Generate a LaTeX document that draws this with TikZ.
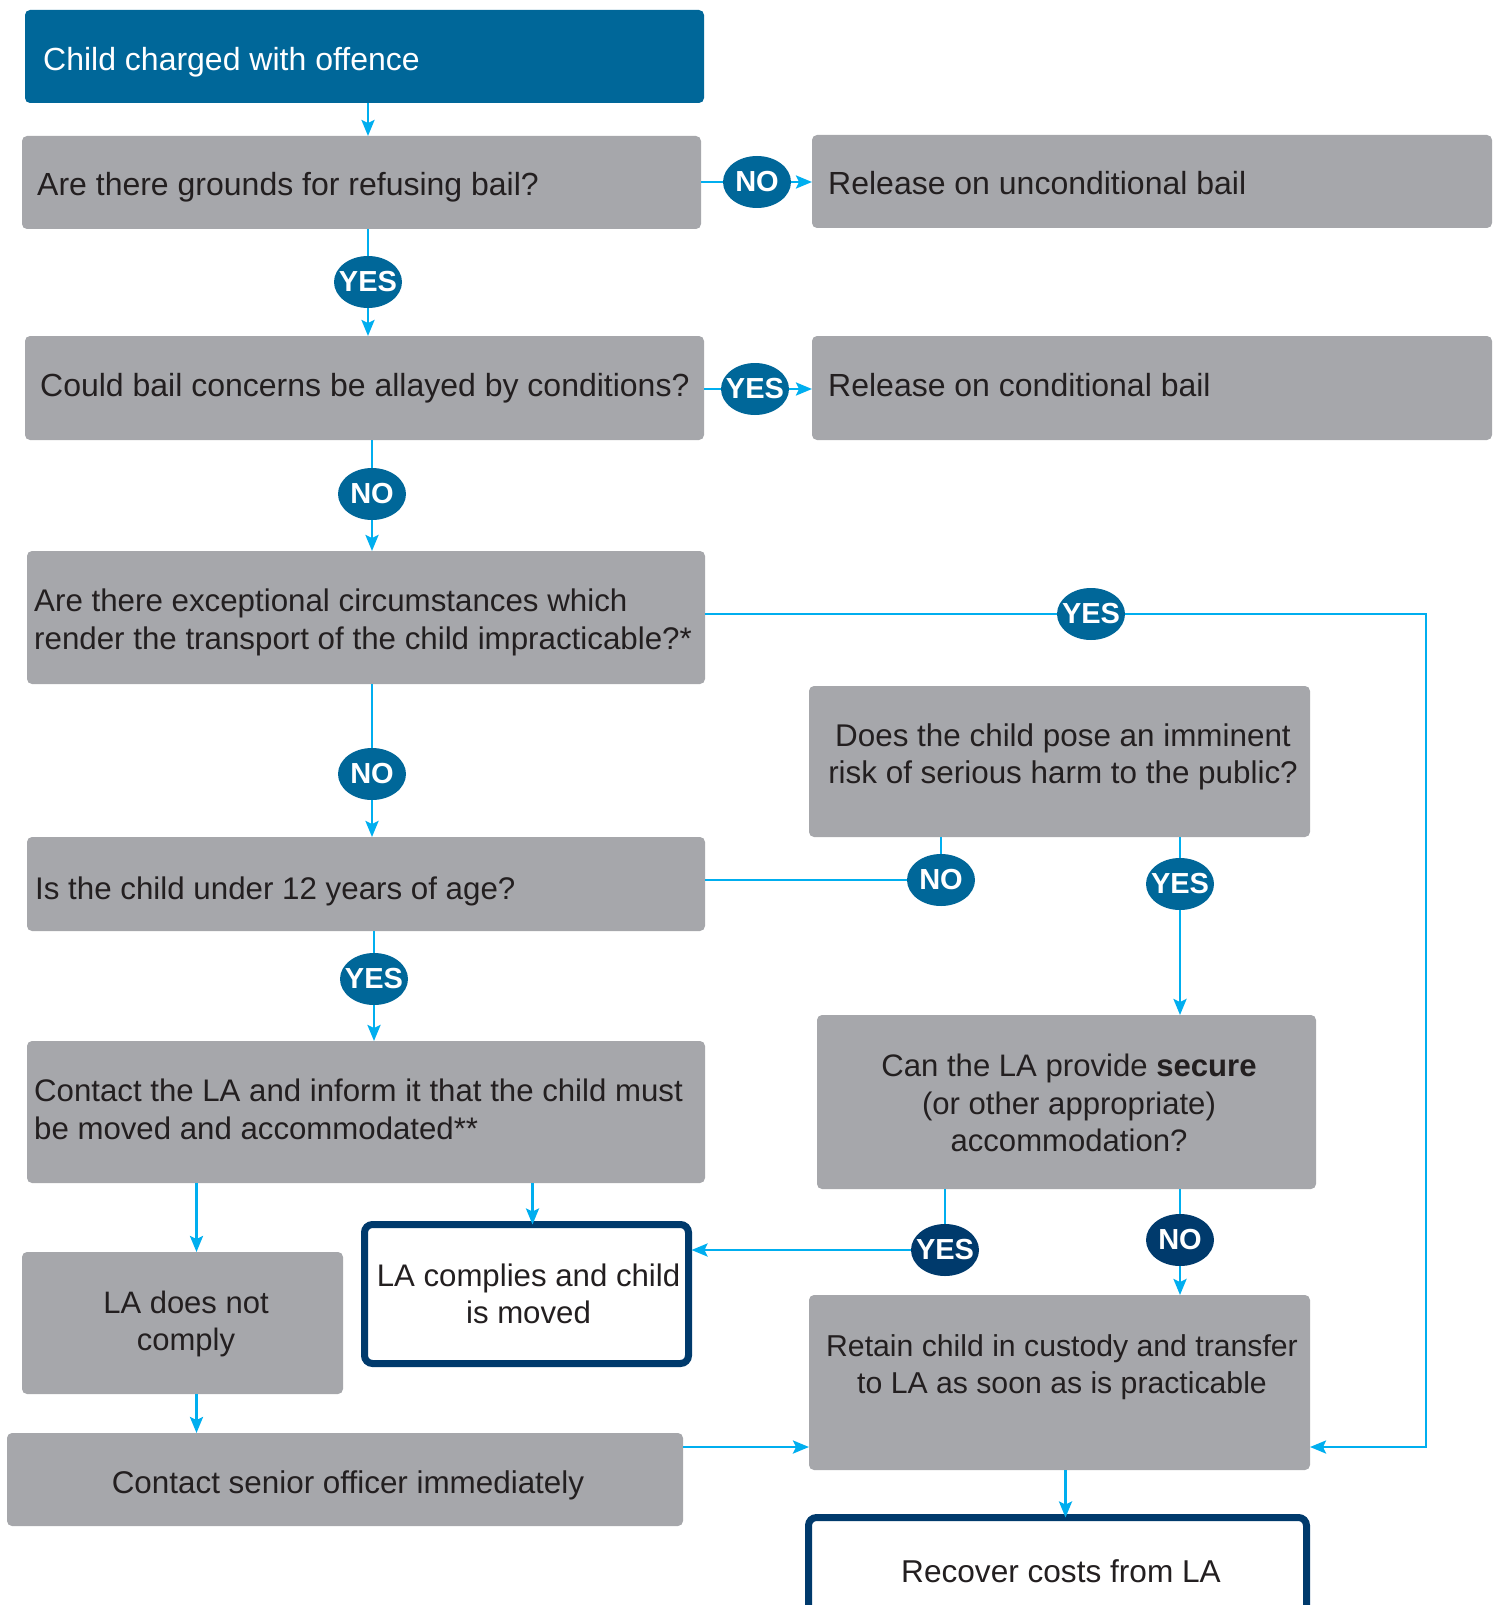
\documentclass[tikz,border=0pt]{standalone}
\usepackage{fontspec}
\setmainfont{Liberation Sans}
\usetikzlibrary{arrows.meta,shapes.geometric,calc}
\definecolor{topblue}{RGB}{0,103,153}
\definecolor{boxgray}{RGB}{166,167,171}
\definecolor{lineblue}{RGB}{0,174,239}
\definecolor{navy}{RGB}{0,58,108}
\definecolor{txtdark}{RGB}{35,31,32}
\newcommand{\tagtext}[1]{\makebox[0pt]{#1}}
\begin{document}
\begin{tikzpicture}[x=1pt,y=-1pt,
  every node/.style={text=txtdark},
  fs/.style={font=\fontsize{#1}{37.5}\selectfont},
  gbox/.style={fill=boxgray, rounded corners=5pt, inner sep=0pt, outer sep=0pt, anchor=north west},
  wbox/.style={draw=navy, line width=7pt, fill=white, rounded corners=8pt, inner sep=0pt, outer sep=0pt, anchor=north west},
  lt/.style={anchor=base west, inner sep=0pt, align=left},
  ct/.style={anchor=base, inner sep=0pt, align=center},
  tag/.style={ellipse, fill=topblue, minimum width=68pt, minimum height=52pt, inner sep=0pt, text=white, font=\fontsize{29}{30}\selectfont\bfseries},
  dtag/.style={tag, fill=navy},
  conn/.style={draw=lineblue, line width=2.6pt},
  arr/.style={conn, -{Stealth[length=16pt,width=13pt,inset=3pt]}},
]
\useasboundingbox (0,0) rectangle (1492,1605);
\clip (0,0) rectangle (1492,1605);

% boxes
\node[gbox, fill=topblue, minimum width=679pt, minimum height=93pt] (b1) at (25,10) {};
\node[gbox, minimum width=679pt, minimum height=93pt] (b2) at (22,136) {};
\node[gbox, minimum width=680pt, minimum height=93pt] (r1) at (812,135) {};
\node[gbox, minimum width=679pt, minimum height=104pt] (b3) at (25,336) {};
\node[gbox, minimum width=680pt, minimum height=104pt] (r2) at (812,336) {};
\node[gbox, minimum width=678pt, minimum height=133pt] (b4) at (27,551) {};
\node[gbox, minimum width=501pt, minimum height=151pt] (risk) at (809,686) {};
\node[gbox, minimum width=678pt, minimum height=94pt] (b5) at (27,837) {};
\node[gbox, minimum width=678pt, minimum height=142pt] (b6) at (27,1041) {};
\node[gbox, minimum width=499pt, minimum height=174pt] (can) at (817,1015) {};
\node[gbox, minimum width=321pt, minimum height=142pt] (nc) at (22,1252) {};
\node[wbox, minimum width=324pt, minimum height=139pt] (comp) at (364.5,1224.5) {};
\node[gbox, minimum width=501pt, minimum height=175pt] (retain) at (809,1295) {};
\node[gbox, minimum width=676pt, minimum height=93pt] (senior) at (7,1433) {};
\node[wbox, minimum width=498pt, minimum height=150pt] (recover) at (808.5,1517.5) {};

% texts (base anchor = baseline of the last line)
\node[lt, fs=32, text=white] (t1) at (43,71) {Child charged with offence};
\node[lt, fs=32] (t2) at (37,196) {Are there grounds for refusing bail?};
\node[lt, fs=32] (tr1) at (828,195) {Release on unconditional bail};
\node[lt, fs=32] (t3) at (40,396) {Could bail concerns be allayed by conditions?};
\node[lt, fs=32] (tr2) at (828,396) {Release on conditional bail};
\node[lt, fs=31.3] (t4) at (34,649) {Are there exceptional circumstances which\\render the transport of the child impracticable?*};
\node[ct, fs=31.4] (trisk) at (1063,783.5) {Does the child pose an imminent\\risk of serious harm to the public?};
\node[lt, fs=31.3] (t5) at (35,899) {Is the child under 12 years of age?};
\node[lt, fs=31.2] (t6) at (34,1139) {Contact the LA and inform it that the child must\\be moved and accommodated**};
\node[ct, fs=31.1] (tcan) at (1069,1151.5) {Can the LA provide \textbf{secure}\\(or other appropriate)\\accommodation?};
\node[ct, fs=31] (tnc) at (186,1350.5) {LA does not\\comply};
\node[ct, fs=31.2] (tcomp) at (528.5,1323.5) {LA complies and child\\is moved};
\node[ct, fs=30.2] (tretain) at (1062,1393.5) {Retain child in custody and transfer\\to LA as soon as is practicable};
\node[ct, fs=31.4] (tsenior) at (348,1493) {Contact senior officer immediately};
\node[ct, fs=31.6] (trecover) at (1061,1582) {Recover costs from LA};

% tags
\node[tag] (e1) at (757,182) {\tagtext{NO}};
\node[tag] (e2) at (368,282) {\tagtext{YES}};
\node[tag] (e3) at (755,389) {\tagtext{YES}};
\node[tag] (e4) at (372,494) {\tagtext{NO}};
\node[tag] (e5) at (1091,614) {\tagtext{YES}};
\node[tag] (e6) at (372,774) {\tagtext{NO}};
\node[tag] (e7) at (941,880) {\tagtext{NO}};
\node[tag] (e8) at (1180,884) {\tagtext{YES}};
\node[tag] (e9) at (374,979) {\tagtext{YES}};
\node[dtag] (e10) at (945,1250) {\tagtext{YES}};
\node[dtag] (e11) at (1180,1240) {\tagtext{NO}};

\coordinate (cornerTop) at (1426,614);
\coordinate (cornerBot) at (1426,1447);

% connectors
\draw[arr] (e2 |- b1.south) -- (e2 |- b2.north);
\draw[conn] (b2.east |- e1) -- (e1.west);
\draw[arr] (e1.east) -- (r1.west |- e1);
\draw[conn] (e2 |- b2.south) -- (e2.north);
\draw[arr] (e2.south) -- (e2 |- b3.north);
\draw[conn] (b3.east |- e3) -- (e3.west);
\draw[arr] (e3.east) -- (r2.west |- e3);
\draw[conn] (e4 |- b3.south) -- (e4.north);
\draw[arr] (e4.south) -- (e4 |- b4.north);
\draw[conn] (b4.east |- e5) -- (e5.west);
\draw[arr] (e5.east) -- (cornerTop) -- (cornerBot) -- (retain.east |- cornerBot);
\draw[conn] (e6 |- b4.south) -- (e6.north);
\draw[arr] (e6.south) -- (e6 |- b5.north);
\draw[conn] (b5.east |- e7) -- (e7.west);
\draw[conn] (e7.north) -- (e7 |- risk.south);
\draw[conn] (e8 |- risk.south) -- (e8.north);
\draw[arr] (e8.south) -- (e8 |- can.north);
\draw[conn] (e9 |- b5.south) -- (e9.north);
\draw[arr] (e9.south) -- (e9 |- b6.north);
\draw[arr] ([xshift=14pt]nc.north |- b6.south) -- ([xshift=14pt]nc.north);
\draw[arr] ([xshift=6pt]comp.north |- b6.south) -- ([xshift=6pt]comp.north);
\draw[conn] (e10 |- can.south) -- (e10.north);
\draw[arr] (e10.west) -- ([xshift=3pt]comp.east |- e10);
\draw[conn] (e11 |- can.south) -- (e11.north);
\draw[arr] (e11.south) -- (e11 |- retain.north);
\draw[arr] ([xshift=14pt]nc.south) -- ([xshift=14pt]nc.south |- senior.north);
\draw[arr] (senior.east |- cornerBot) -- (retain.west |- cornerBot);
\draw[arr] ([xshift=6pt]retain.south) -- ([xshift=6pt]retain.south |- recover.north);
\end{tikzpicture}
\end{document}
